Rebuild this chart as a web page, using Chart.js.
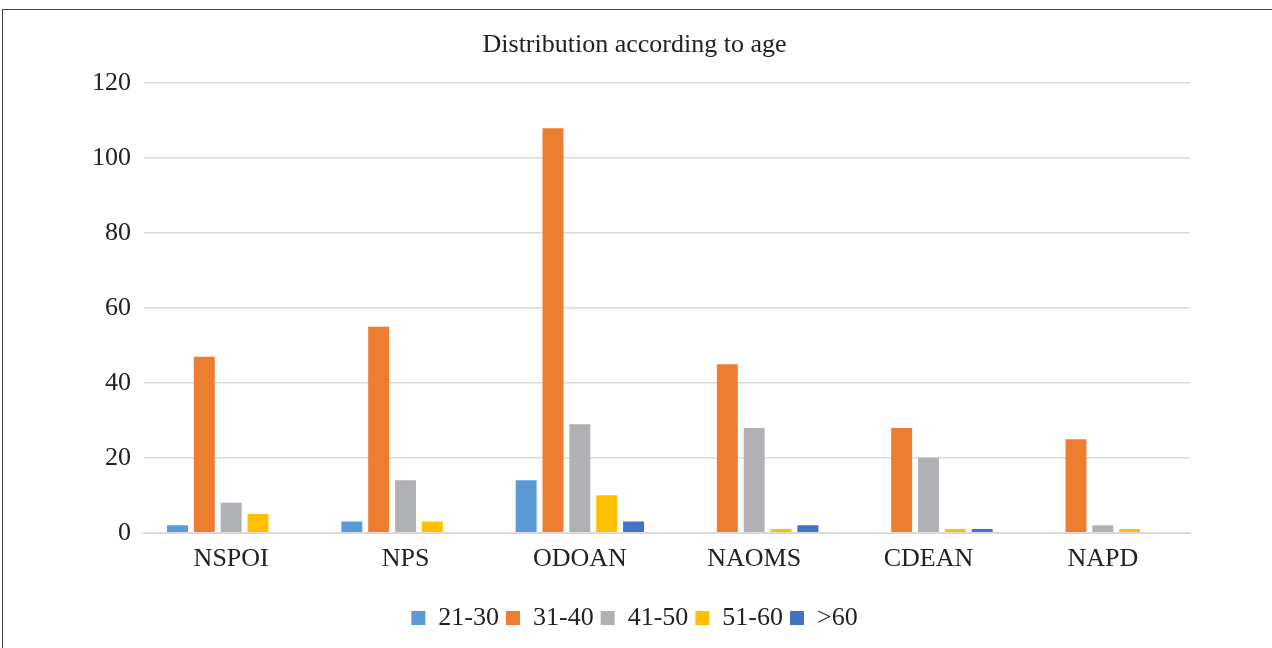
<!DOCTYPE html>
<html>
<head>
<meta charset="utf-8">
<script src="https://cdn.jsdelivr.net/npm/chart.js@4.4.0/dist/chart.umd.min.js"></script>
<style>
  html, body { margin: 0; padding: 0; background: #fff; }
  #frame { position: absolute; left: 2px; top: 9px; width: 1280px; height: 700px; border: 1.5px solid #444; }
  #wrap { position: absolute; left: 0; top: 0; width: 1272px; height: 648px; }
</style>
</head>
<body>
<div id="frame"></div>
<div id="wrap"><canvas id="myChart"></canvas></div>
<script>
const categories = ['NSPOI', 'NPS', 'ODOAN', 'NAOMS', 'CDEAN', 'NAPD'];
const age21to30 = [2, 3, 14, 0, 0, 0];
const age31to40 = [47, 55, 108, 45, 28, 25];
const age41to50 = [8, 14, 29, 28, 20, 2];
const age51to60 = [5, 3, 10, 1, 1, 1];
const ageOver60 = [0, 0, 3, 2, 1, 0];

const serif = "'Liberation Serif', 'Times New Roman', serif";

const ctx = document.getElementById('myChart').getContext('2d');

const data = {
  labels: categories,
  datasets: [
    { label: '21-30', data: age21to30, backgroundColor: '#5B9BD5' },
    { label: '31-40', data: age31to40, backgroundColor: '#ED7D31' },
    { label: '41-50', data: age41to50, backgroundColor: '#B0B1B4' },
    { label: '51-60', data: age51to60, backgroundColor: '#FFC000' },
    { label: '>60', data: ageOver60, backgroundColor: '#4472C4' }
  ]
};

const chart = new Chart(ctx, {
  type: 'bar',
  data: data,
  options: {
    responsive: true,
    maintainAspectRatio: false,
    animation: false,
    barPercentage: 0.78,
    categoryPercentage: 0.77,
    layout: { padding: { left: 79, right: 82, top: 26, bottom: 7 } },
    plugins: {
      title: {
        display: true,
        text: 'Distribution according to age',
        color: '#222',
        font: { family: serif, size: 26, weight: 'normal' },
        padding: { top: 4, bottom: 22 }
      },
      legend: {
        position: 'bottom',
        labels: {
          color: '#222',
          font: { family: serif, size: 26 },
          boxWidth: 14,
          boxHeight: 14,
          padding: 7
        }
      },
      tooltip: { enabled: false }
    },
    scales: {
      x: {
        grid: { display: false },
        border: { color: '#D9D9D9', width: 2 },
        ticks: { color: '#222', font: { family: serif, size: 26 }, padding: 3 },
        afterFit: (axis) => { axis.height += 20; }
      },
      y: {
        min: 0,
        max: 120,
        ticks: { stepSize: 20, color: '#222', font: { family: serif, size: 26 }, padding: 13 },
        grid: { color: '#D9D9D9', lineWidth: 1.5, drawTicks: false },
        border: { display: false }
      }
    }
  }
});
</script>
</body>
</html>
